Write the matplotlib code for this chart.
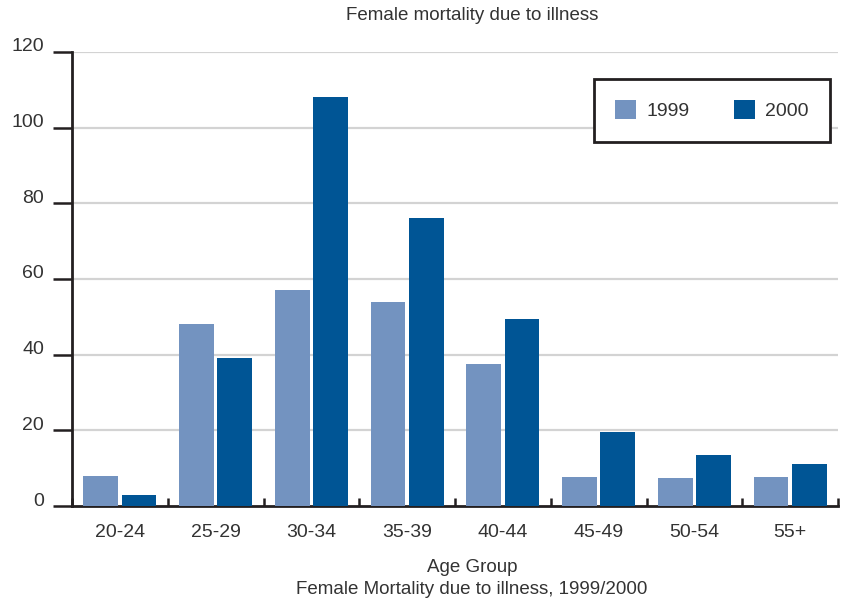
import numpy as np
import matplotlib.pyplot as plt
from matplotlib.transforms import ScaledTranslation

plt.rcParams['font.family'] = ['Liberation Sans', 'DejaVu Sans']

groups = ["20-24", "25-29", "30-34", "35-39", "40-44", "45-49", "50-54", "55+"]
y1999 = [8, 48, 57, 54, 37.5, 7.7, 7.4, 7.7]
y2000 = [3, 39, 108, 76, 49.5, 19.5, 13.4, 11.2]
yticks = [0, 20, 40, 60, 80, 100, 120]

c1999 = "#7393c0"
c2000 = "#005595"
txt = "#333333"
axc = "#231f20"

fig = plt.figure(figsize=(8.47, 6.02), dpi=100)
ax = fig.add_axes([72 / 847, 1 - 506 / 602, (838 - 72) / 847, (506 - 52) / 602])

x = np.arange(len(groups))
w = 0.365
ax.bar(x - 0.2, y1999, w, color=c1999, label="1999", zorder=3)
ax.bar(x + 0.2, y2000, w, color=c2000, label="2000", zorder=3)

ax.set_xlim(-0.5, len(groups) - 0.5)
ax.set_ylim(0, 120)

ax.set_yticks(yticks)
ax.set_yticklabels([str(v) for v in yticks], fontsize=14, color=txt)
ax.tick_params(axis="y", direction="out", length=14, width=1.8, color=axc, pad=6)
off = ScaledTranslation(0, 7 / 100, fig.dpi_scale_trans)
for lab in ax.get_yticklabels():
    lab.set_transform(lab.get_transform() + off)

ax.set_xticks(np.arange(len(groups) + 1) - 0.5)
ax.set_xticklabels([])
ax.tick_params(axis="x", which="major", direction="in", length=6, width=1.8, color=axc)
ax.set_xticks(x, minor=True)
ax.set_xticklabels(groups, minor=True, fontsize=14, color=txt)
ax.tick_params(axis="x", which="minor", length=0, pad=13)

for v in yticks[1:]:
    ax.axhline(v, color="#d3d3d3", lw=1.6, zorder=1)

for s in ["top", "right"]:
    ax.spines[s].set_visible(False)
for s in ["left", "bottom"]:
    ax.spines[s].set_color(axc)
    ax.spines[s].set_linewidth(2)

leg = ax.legend(loc="upper right", bbox_to_anchor=(830 / 847, 1 - 79 / 602),
                bbox_transform=fig.transFigure, ncol=2, fontsize=14,
                frameon=True, fancybox=False, framealpha=1,
                handlelength=1.1, handleheight=1.1,
                columnspacing=2.3, borderpad=1.1, handletextpad=0.5,
                borderaxespad=0)
leg.get_frame().set_edgecolor(axc)
leg.get_frame().set_linewidth(2)
for t in leg.get_texts():
    t.set_color(txt)

fig.text(472 / 847, 1 - 15 / 602, "Female mortality due to illness", ha="center",
         va="center", fontsize=13.5, color=txt)
fig.text(472 / 847, 1 - 568 / 602, "Age Group", ha="center", va="center",
         fontsize=13.5, color=txt)
fig.text(472 / 847, 1 - 590 / 602, "Female Mortality due to illness, 1999/2000",
         ha="center", va="center", fontsize=13.5, color=txt)

fig.savefig("out.png", dpi=100)
